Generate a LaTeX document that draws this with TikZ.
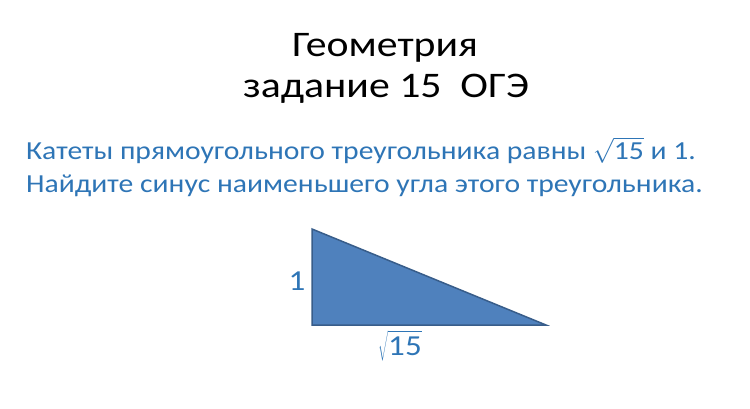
\documentclass[tikz,border=0pt]{standalone}
\usepackage{fontspec}
\setmainfont{Carlito}[FakeStretch=1.16]
\newfontfamily\taskfont{Carlito}[FakeStretch=1.14]
\definecolor{txtblue}{HTML}{2E75B6}
\definecolor{trifill}{HTML}{4F81BD}
\definecolor{triline}{HTML}{385D8A}
\newcommand{\rtfifteen}{$\sqrt{\mbox{15\vphantom{(}}}$}
\tikzset{
  title/.style={anchor=base, inner sep=0pt, font=\fontsize{36}{40}\selectfont, text=black},
  task/.style={anchor=base west, inner sep=0pt, font=\taskfont\fontsize{26}{30}\selectfont, text=txtblue},
  lbl/.style={inner sep=0pt, font=\taskfont\fontsize{29}{30}\selectfont, text=txtblue},
  tri/.style={fill=trifill, draw=triline, line width=1.5pt, line join=miter}
}
\begin{document}
\begin{tikzpicture}[x=1pt,y=-1pt]
\useasboundingbox (0,0) rectangle (750,408);
\node[title] (t1) at (385,56) {Геометрия};
\node[title] (t2) at (386,97) {задание 15\ \ ОГЭ};
\node[task] (l1) at (26,159) {Катеты прямоугольного треугольника равны \rtfifteen{} и 1.};
\node[task] (l2) at (26,192) {Найдите синус наименьшего угла этого треугольника.};
\coordinate (A) at (312,229);
\coordinate (B) at (312,325);
\coordinate (C) at (546,325);
\draw[tri] (A) -- (B) -- (C) -- cycle;
\node[lbl] (one) at (297,281) {1};
\node[lbl, anchor=base] (root) at (400,355) {\rtfifteen};
\end{tikzpicture}
\end{document}
